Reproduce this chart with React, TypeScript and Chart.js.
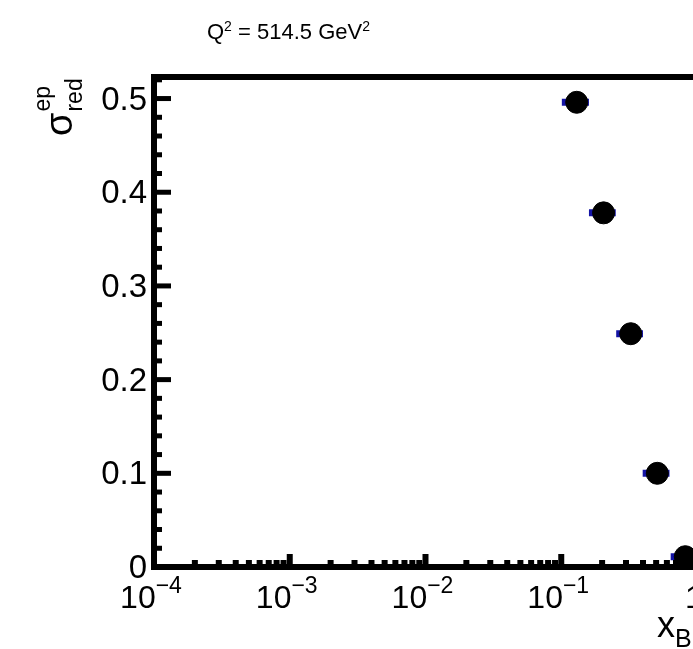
import React, { useEffect, useRef } from 'react';
import { Chart, registerables } from 'chart.js';

Chart.register(...registerables);

// ---- data ----
const xValues = [0.13, 0.205, 0.325, 0.51, 0.82];
const sigmaValues = [0.496, 0.378, 0.249, 0.1, 0.011];
const xLow = [0.101, 0.16, 0.254, 0.398, 0.64];
const xHigh = [0.16, 0.252, 0.4, 0.627, 1.01];

const yTickValues = [0, 0.1, 0.2, 0.3, 0.4, 0.5];
const yTickLabels = ['0', '0.1', '0.2', '0.3', '0.4', '0.5'];
const xTickValues = [1e-4, 1e-3, 1e-2, 1e-1, 1];
const xTickBases = ['10', '10', '10', '10', '1'];
const xTickExponents = ['\u22124', '\u22123', '\u22122', '\u22121', ''];

const titleMain = 'Q';
const titleMid = ' = 514.5 GeV';
const titleSup = '2';

const FONT = '"Liberation Sans", Arial, Helvetica, sans-serif';

type Part = { text: string; size: number; dy: number };

function drawParts(ctx: CanvasRenderingContext2D, parts: Part[], x: number, y: number, align: 'left' | 'center' | 'right') {
  let total = 0;
  const widths = parts.map((p) => {
    ctx.font = `${p.size}px ${FONT}`;
    const w = ctx.measureText(p.text).width;
    total += w;
    return w;
  });
  let cx = align === 'left' ? x : align === 'center' ? x - total / 2 : x - total;
  ctx.textAlign = 'left';
  ctx.textBaseline = 'alphabetic';
  parts.forEach((p, i) => {
    ctx.font = `${p.size}px ${FONT}`;
    ctx.fillText(p.text, cx, y + p.dy);
    cx += widths[i];
  });
}

const framePlugin = {
  id: 'rootFrame',
  afterDraw(chart: any) {
    const ctx: CanvasRenderingContext2D = chart.ctx;
    const ca = chart.chartArea;
    const xs = chart.scales.x;
    const ys = chart.scales.y;
    ctx.save();
    ctx.fillStyle = '#000';
    ctx.strokeStyle = '#000';

    // frame
    ctx.lineWidth = 6;
    ctx.lineCap = 'butt';
    ctx.strokeRect(ca.left, ca.top, ca.right - ca.left, ca.bottom - ca.top);

    // y ticks
    ctx.lineWidth = 5;
    const yMax = ys.max;
    for (let i = 0; i * 0.02 <= yMax + 1e-9; i++) {
      const v = i * 0.02;
      const py = ys.getPixelForValue(v);
      const major = i % 5 === 0;
      const len = major ? 17 : 8;
      ctx.beginPath();
      ctx.moveTo(ca.left, py);
      ctx.lineTo(ca.left + len, py);
      ctx.stroke();
    }
    // x ticks
    ctx.lineWidth = 6;
    for (let d = -4; d < 0; d++) {
      for (let k = 1; k <= 9; k++) {
        const v = k * Math.pow(10, d);
        const px = xs.getPixelForValue(v);
        const len = k === 1 ? 13 : 7;
        ctx.beginPath();
        ctx.moveTo(px, ca.bottom);
        ctx.lineTo(px, ca.bottom - len);
        ctx.stroke();
      }
    }

    // y tick labels
    ctx.font = `33px ${FONT}`;
    ctx.textAlign = 'right';
    ctx.textBaseline = 'middle';
    yTickValues.forEach((v, i) => {
      ctx.fillText(yTickLabels[i], 147, ys.getPixelForValue(v) + 2);
    });

    // x tick labels
    xTickValues.forEach((v, i) => {
      const px = xs.getPixelForValue(v);
      const parts: Part[] = [{ text: xTickBases[i], size: 32, dy: 0 }];
      if (xTickExponents[i]) parts.push({ text: xTickExponents[i], size: 23, dy: -15 });
      drawParts(ctx, parts, px - 3, 608, 'center');
    });

    // title
    drawParts(
      ctx,
      [
        { text: titleMain, size: 22, dy: 0 },
        { text: titleSup, size: 14, dy: -8 },
        { text: titleMid, size: 22, dy: 0 },
        { text: titleSup, size: 14, dy: -8 },
      ],
      207,
      39,
      'left'
    );

    // x axis title
    drawParts(
      ctx,
      [
        { text: 'x', size: 36, dy: 0 },
        { text: 'Bj', size: 25, dy: 10 },
      ],
      657,
      637,
      'left'
    );

    // y axis title (rotated)
    ctx.save();
    ctx.translate(72, 136);
    ctx.rotate(-Math.PI / 2);
    ctx.textAlign = 'left';
    ctx.textBaseline = 'alphabetic';
    ctx.font = `38px ${FONT}`;
    ctx.fillText('\u03c3', 0, 0);
    const sw = ctx.measureText('\u03c3').width;
    ctx.font = `23px ${FONT}`;
    ctx.fillText('ep', sw + 1, -22);
    ctx.fillText('red', sw + 1, 10);
    ctx.restore();

    ctx.restore();
  },
};

export default function App() {
  const ref = useRef<HTMLCanvasElement | null>(null);
  useEffect(() => {
    if (!ref.current) return;
    const barData: any[] = [];
    xValues.forEach((_, i) => {
      barData.push({ x: xLow[i], y: sigmaValues[i] });
      barData.push({ x: xHigh[i], y: sigmaValues[i] });
      barData.push({ x: NaN, y: NaN });
    });
    const chart = new Chart(ref.current, {
      type: 'scatter',
      data: {
        datasets: [
          {
            label: 'data',
            data: xValues.map((x, i) => ({ x, y: sigmaValues[i] })),
            backgroundColor: '#000',
            borderColor: '#000',
            borderWidth: 1,
            pointRadius: 11,
            pointHoverRadius: 11,
            clip: false as any,
            order: 0,
          },
          {
            type: 'line',
            label: 'bins',
            data: barData,
            borderColor: 'rgb(20,20,165)',
            borderWidth: 7,
            borderCapStyle: 'butt',
            pointRadius: 0,
            showLine: true,
            spanGaps: false,
            fill: false,
            order: 1,
          } as any,
        ],
      },
      options: {
        responsive: false,
        animation: false,
        events: [],
        layout: { padding: { left: 154, right: 63, top: 77, bottom: 82 } },
        plugins: { legend: { display: false }, tooltip: { enabled: false }, title: { display: false } },
        scales: {
          x: {
            type: 'logarithmic',
            min: 1e-4,
            max: 1,
            display: false,
          },
          y: {
            type: 'linear',
            min: 0,
            max: 0.523,
            display: false,
          },
        },
      },
      plugins: [framePlugin],
    });
    return () => chart.destroy();
  }, []);

  return (
    <div style={{ position: 'fixed', left: 0, top: 0, width: 693, height: 649, overflow: 'hidden', background: '#fff' }}>
      <canvas ref={ref} width={760} height={649} style={{ display: 'block' }} />
    </div>
  );
}
